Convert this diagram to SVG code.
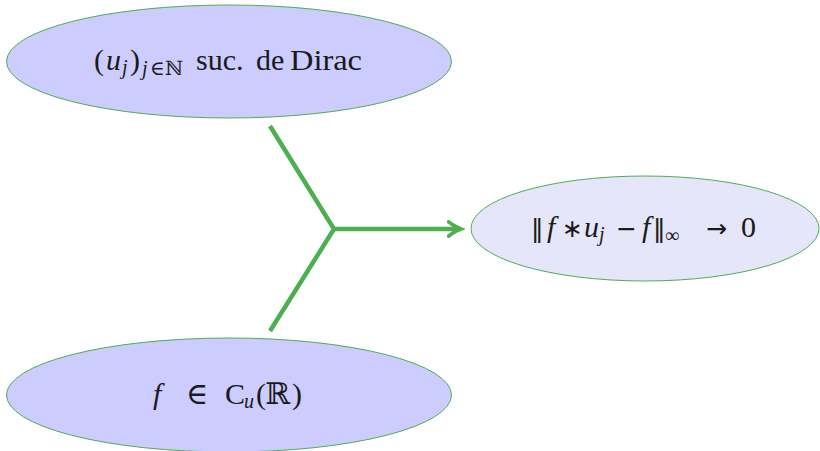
<svg xmlns="http://www.w3.org/2000/svg" width="820" height="451" viewBox="0 0 820 451">
<style>
.node{stroke:#4caf50;stroke-width:1}
.t{font-family:"Liberation Serif","DejaVu Serif",serif;font-size:30px;fill:#1a1a1a}
.i{font-style:italic}
.s{font-size:20px}
.m{font-family:"DejaVu Sans",sans-serif;font-size:25px}
.conn{stroke:#4caf50;stroke-width:4.5;fill:none;stroke-linecap:butt;stroke-linejoin:miter}
</style>
<defs>
<marker id="arr" viewBox="0 0 10 10" refX="8" refY="5" markerWidth="4" markerHeight="5" orient="auto" markerUnits="strokeWidth">
<path d="M1,1 Q5,4 8,5 Q5,6 1,9" fill="none" stroke="#4caf50" stroke-width="2" stroke-linecap="round"/>
</marker>
</defs>
<rect width="820" height="451" fill="#fff"/>
<g id="dirac">
<ellipse class="node" cx="229" cy="61.5" rx="222.5" ry="56.5" fill="#ccccff"/>
<text class="t" y="70"><tspan x="94">(</tspan><tspan x="106" class="i">u</tspan><tspan x="122" class="i s" dy="4">j</tspan><tspan x="130" dy="-4">)</tspan><tspan x="142" class="i s" dy="5">j</tspan><tspan x="150" class="s">∈</tspan><tspan x="165" class="s">ℕ</tspan><tspan x="196" dy="-5">suc.</tspan><tspan x="256">de</tspan><tspan x="290" textLength="72" lengthAdjust="spacingAndGlyphs">Dirac</tspan></text>
</g>
<g id="fcu">
<ellipse class="node" cx="229" cy="395" rx="222.5" ry="57" fill="#ccccff"/>
<text class="t" y="404"><tspan x="153" class="i">f</tspan><tspan x="186">∈</tspan><tspan x="225">C</tspan><tspan x="244" class="i s" dy="4">u</tspan><tspan x="256" dy="-4">(</tspan><tspan x="265">ℝ</tspan><tspan x="292">)</tspan></text>
</g>
<g id="result">
<ellipse class="node" cx="645" cy="228.5" rx="174" ry="52.5" fill="#e6e6fb"/>
<text class="t" y="237"><tspan x="531" class="m">‖</tspan><tspan x="547" class="i">f</tspan><tspan x="562" class="m">∗</tspan><tspan x="584" class="i">u</tspan><tspan x="599" class="i s" dy="4">j</tspan><tspan x="616" dy="-4" class="m">−</tspan><tspan x="642" class="i">f</tspan><tspan x="653" class="m">‖</tspan><tspan x="665" class="s" dy="5">∞</tspan><tspan x="706" dy="-5" class="m">→</tspan><tspan x="741">0</tspan></text>
</g>
<g id="connectors">
<path class="conn" d="M270,126 L334,229 L270,331"/>
<path class="conn" d="M334,229 L461,229" marker-end="url(#arr)"/>
</g>
</svg>
